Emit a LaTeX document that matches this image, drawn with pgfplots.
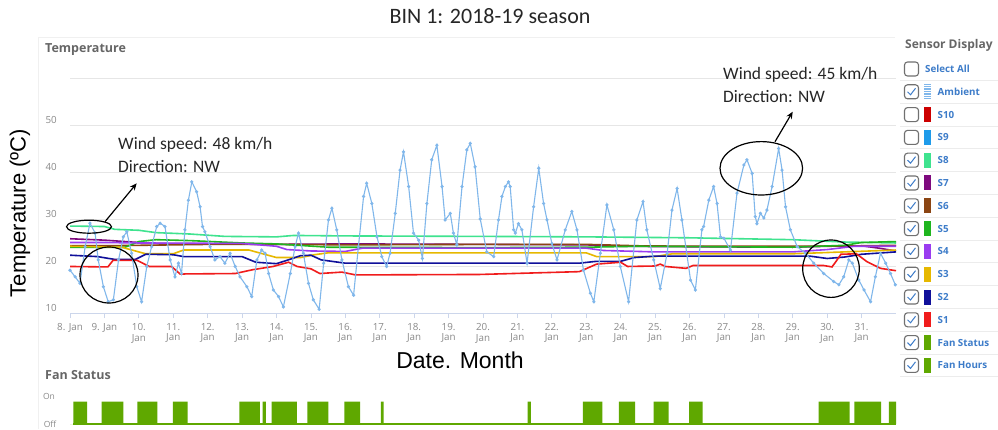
\documentclass[border=0pt]{standalone}
\usepackage{pgfplots}
\pgfplotsset{compat=1.18}
\usepackage{fontspec}
\setmainfont{Open Sans}
\newfontfamily\calfont{Carlito}
\newfontfamily\arfont{Liberation Sans}
\usetikzlibrary{arrows.meta}
\definecolor{amb}{HTML}{80B7EB}
\definecolor{s8}{HTML}{3FE38F}
\definecolor{s7}{HTML}{7E0A7E}
\definecolor{s6}{HTML}{8B4513}
\definecolor{s5}{HTML}{1FB51F}
\definecolor{s4}{HTML}{9A3CF0}
\definecolor{s3}{HTML}{E6B800}
\definecolor{s2}{HTML}{10109A}
\definecolor{s1}{HTML}{F01C1C}
\definecolor{s10}{HTML}{CC0000}
\definecolor{s9}{HTML}{1E9BEA}
\definecolor{fan}{HTML}{5FA800}
\definecolor{txtg}{HTML}{666666}
\definecolor{tickg}{HTML}{8A8A8A}
\definecolor{gridc}{HTML}{E6E6E6}
\definecolor{axl}{HTML}{CCD6EB}
\definecolor{legb}{HTML}{3D7CC9}
\definecolor{boxg}{HTML}{707070}

\pgfplotstableread{
d T
8.00 19.1
8.15 17.7
8.29 16.3
8.44 24.1
8.58 29.1
8.73 27.0
8.82 21.3
8.97 15.6
9.11 12.4
9.26 12.8
9.41 21.3
9.55 26.2
9.65 27.3
9.79 22.7
9.94 15.6
10.08 12.4
10.23 19.9
10.37 24.1
10.52 28.4
10.62 29.1
10.76 28.4
10.91 21.3
11.05 17.7
11.15 20.6
11.24 18.4
11.34 27.7
11.44 34.0
11.54 37.9
11.68 35.8
11.78 32.6
11.85 28.4
11.92 27.3
12.07 24.1
12.21 21.3
12.36 22.0
12.50 20.6
12.65 22.7
12.80 19.9
12.94 17.7
13.14 15.6
13.28 13.5
13.43 21.3
13.57 23.4
13.67 22.7
13.77 18.4
13.91 14.9
14.06 13.5
14.20 11.3
14.40 18.4
14.54 24.1
14.64 27.0
14.78 22.7
14.93 16.3
15.07 12.8
15.24 10.8
15.37 20.6
15.51 29.8
15.61 32.3
15.75 27.7
15.90 21.3
16.09 15.6
16.24 13.8
16.38 24.1
16.53 34.8
16.62 37.6
16.77 33.3
16.92 26.2
17.06 22.0
17.20 19.9
17.30 22.7
17.45 31.2
17.59 40.4
17.69 44.3
17.84 36.9
17.98 27.0
18.13 25.5
18.24 21.6
18.37 33.3
18.51 42.6
18.66 45.7
18.81 36.9
18.90 29.8
19.05 31.2
19.14 27.0
19.24 24.5
19.39 36.9
19.53 44.7
19.63 46.1
19.77 41.1
19.92 30.0
20.11 23.0
20.31 22.0
20.45 29.8
20.55 34.8
20.65 36.9
20.74 37.9
20.79 36.9
20.89 27.7
20.94 27.0
21.03 29.0
21.13 27.7
21.28 20.6
21.47 32.6
21.62 40.8
21.76 33.3
21.86 29.8
22.00 24.8
22.15 21.3
22.39 27.7
22.58 31.6
22.73 27.7
22.92 19.1
23.12 14.2
23.22 12.4
23.41 22.7
23.60 33.0
23.80 27.7
23.99 19.9
24.23 12.4
24.47 29.8
24.65 33.7
24.76 27.7
24.96 21.3
25.15 15.2
25.35 22.7
25.49 31.9
25.64 36.5
25.78 29.8
26.03 17.0
26.17 14.9
26.36 27.7
26.41 28.4
26.56 34.0
26.70 36.9
26.80 33.3
26.90 26.2
27.00 25.9
27.19 23.4
27.38 35.5
27.58 41.5
27.67 42.6
27.82 39.7
27.91 30.5
27.96 29.0
28.06 31.2
28.16 30.2
28.25 31.9
28.40 36.9
28.59 45.0
28.69 40.4
28.79 32.6
28.93 27.7
29.13 24.1
29.37 22.7
29.61 20.6
29.90 18.4
30.19 16.7
30.34 16.0
30.48 17.7
30.63 21.3
30.73 20.6
30.92 17.0
31.07 14.9
31.26 12.4
31.40 17.7
31.55 22.7
31.70 20.6
31.84 18.4
31.98 16.0
}\ambient

\begin{document}
\begin{tikzpicture}[x=1pt,y=1pt]
\useasboundingbox (0,0) rectangle (998,429);
\fill[white] (0,0) rectangle (998,429);
% faint chart container border
\draw[gray!12, line width=0.8pt] (38,0) -- (38,392) -- (895,392);

% title and headings
\node[font=\calfont\fontsize{22}{26}\selectfont, text=black!85] at (490,413) {BIN 1: 2018-19 season};
\node[anchor=west, inner sep=0pt, font=\bfseries\fontsize{12.5}{15}\selectfont, text=txtg] at (45,379) {Temperature};
\node[anchor=west, inner sep=0pt, font=\bfseries\fontsize{12.5}{15}\selectfont, text=txtg] at (45,54) {Fan Status};
\node[rotate=90, font=\arfont\fontsize{22}{26}\selectfont] at (20,216) {Temperature (ºC)};
\node[font=\arfont\fontsize{23}{27}\selectfont] at (460,69) {Date. Month};
\node[font=\fontsize{8.5}{10}\selectfont, text=tickg] at (49,33) {On};
\node[font=\fontsize{8.5}{10}\selectfont, text=tickg] at (50,5) {Off};

\begin{axis}[
  at={(70pt,116pt)}, anchor=south west,
  scale only axis, width=826pt, height=235pt,
  xmin=8, xmax=32, ymin=10, ymax=60,
  enlargelimits=false,
  axis x line*=bottom, axis y line*=left,
  x axis line style={draw=axl, line width=0.8pt, -},
  y axis line style={draw=none},
  ymajorgrids, grid style={gridc, line width=0.8pt},
  xtick={8,...,31},
  xticklabels={8. Jan,9. Jan,{10.\\Jan},{11.\\Jan},{12.\\Jan},{13.\\Jan},{14.\\Jan},{15.\\Jan},{16.\\Jan},{17.\\Jan},{18.\\Jan},{19.\\Jan},{20.\\Jan},{21.\\Jan},{22.\\Jan},{23.\\Jan},{24.\\Jan},{25.\\Jan},{26.\\Jan},{27.\\Jan},{28.\\Jan},{29.\\Jan},{30.\\Jan},{31.\\Jan}},
  ytick={10,20,30,40,50,60},
  yticklabels={10,20,30,40,50,},
  tick align=outside, major tick length=5pt,
  xtick style={draw=axl, line width=0.8pt},
  ytick style={draw=none},
  /pgf/number format/assume math mode=true,
  xticklabel style={font=\fontsize{9.8}{10.7}\selectfont, text=tickg, align=center, anchor=north, inner sep=0pt, yshift=-5pt},
  yticklabel style={font=\fontsize{9.8}{11}\selectfont, text=tickg, anchor=east, inner sep=0pt, xshift=-8pt, yshift=5pt},
]
\addplot[s8, line width=1.6pt] coordinates {(8,28.5)(9,28.4)(9.3,27.8)(10,27.6)(10.5,27.1)(11.5,26.8)(12.5,26.3)(14,26.2)(14.5,26.5)(16,26.4)(20,26.3)(23,26.2)(26,26.0)(29,25.6)(30.5,25.1)(32,24.9)};
\addplot[s7, line width=1.6pt] coordinates {(8,25.8)(9,25.5)(10,25.0)(10.5,24.8)(12,24.7)(14,24.6)(16,24.7)(20,24.6)(23,24.5)(24,24.2)(26,24.1)(29,24.0)(30,24.2)(31,24.3)(31.5,23.8)(32,23.2)};
\addplot[s6, line width=1.6pt] coordinates {(8,24.3)(9,24.3)(10,24.4)(12,24.6)(14,24.6)(16,24.5)(20,24.6)(23,24.6)(24.5,24.3)(26,24.2)(29,24.2)(31,24.3)(32,24.4)};
\addplot[s5, line width=1.6pt] coordinates {(8,24.0)(9.6,24.0)(10,25.2)(10.5,25.6)(11.5,25.4)(13,24.9)(14,24.7)(15.5,24.0)(20,23.9)(23,24.0)(24.5,24.2)(29,24.0)(30.5,24.4)(31,25.0)(32,25.2)};
\addplot[s4, line width=1.6pt] coordinates {(8,25.0)(9,25.0)(10,24.9)(13,24.8)(14,24.2)(14.3,23.5)(15,23.2)(16,23.1)(16.5,23.8)(20,23.8)(23,23.8)(23.5,23.3)(25,23.0)(29,23.0)(30,23.5)(30.8,24.2)(32,24.2)};
\addplot[s3, line width=1.6pt] coordinates {(8,24.2)(9.5,24.0)(9.9,23.2)(10.2,22.6)(11,22.6)(11.3,23.4)(13.2,23.4)(13.6,22.6)(14,21.8)(14.7,21.8)(15.1,22.4)(15.5,22.8)(19.9,22.8)(23,22.8)(23.3,22.0)(25,22.0)(25.5,22.6)(29,22.6)(30.5,23.0)(32,23.4)};
\addplot[s2, line width=1.6pt] coordinates {(8,22.3)(8.8,22.0)(9.3,21.4)(9.9,21.4)(10.2,22.5)(11,22.4)(11.3,22.0)(13,22.0)(13.4,20.8)(14,20.5)(14.3,21.2)(14.7,22.2)(15.0,22.3)(15.3,21.3)(16,20.6)(19.9,20.6)(22.8,20.6)(23.3,21.0)(24,21.0)(24.4,21.8)(25,22.1)(29.5,22.1)(30,21.6)(30.5,21.9)(31,22.5)(32,23.0)};
\addplot[s1, line width=1.6pt] coordinates {(8,19.9)(9.1,19.8)(9.25,21.2)(9.95,21.2)(10.3,19.9)(10.95,19.9)(11.2,18.3)(12.8,18.4)(13.3,19.2)(13.9,19.9)(14.35,20.8)(14.6,19.9)(15.0,19.4)(15.26,18.4)(15.9,18.7)(16.3,18.1)(19.9,18.2)(22.8,18.8)(23.3,20.4)(24.0,20.8)(24.2,19.9)(25.0,20.0)(25.15,20.4)(25.3,19.9)(25.9,19.5)(26.1,20.1)(29.9,20.1)(30.14,19.8)(30.25,20.9)(30.4,22.5)(30.85,22.6)(31.16,20.9)(31.55,19.5)(32,19.0)};
\addplot[amb, line width=1.1pt, mark=*, mark size=1pt, mark options={fill=amb, draw=amb}] table[x=d, y=T] {\ambient};
\end{axis}

\begin{axis}[
  at={(70pt,5pt)}, anchor=south west,
  scale only axis, width=826pt, height=22.5pt,
  xmin=8, xmax=32, ymin=0, ymax=1,
  enlargelimits=false, hide axis, clip=false,
]
\addplot[fill=fan, draw=none, const plot mark left] coordinates {(8,0)(8.10,1)(8.50,0)(8.92,1)(9.55,0)(9.96,1)(10.54,0)(10.99,1)(11.42,0)(12.92,1)(13.52,0)(13.60,1)(13.69,0)(13.86,1)(14.59,0)(14.90,1)(15.51,0)(15.97,1)(16.43,0)(17.03,1)(17.11,0)(21.30,1)(21.39,0)(22.90,1)(23.47,0)(23.95,1)(24.42,0)(24.96,1)(25.39,0)(25.99,1)(26.38,0)(29.75,1)(30.65,0)(30.79,1)(31.57,0)(31.79,1)(32,1)} \closedcycle;
\addplot[fan, line width=1.5pt] coordinates {(8.1,0)(32,0)};
\end{axis}

% annotations
\begin{scope}[line width=1.2pt, black]
\draw (89,202.3) ellipse [x radius=22.5, y radius=6.5];
\draw (109,154) ellipse [x radius=29, y radius=28];
\draw[-{Stealth[length=7pt,width=6pt]}] (105,207.3) -- (136.7,245.7);
\draw (761.3,260.7) ellipse [x radius=41.3, y radius=26.7];
\draw[-{Stealth[length=7pt,width=6pt]}] (775,287.3) -- (792.7,317.3);
\draw (831,160.3) ellipse [x radius=28.3, y radius=28.7];
\end{scope}
\node[anchor=west, inner sep=0pt, font=\calfont\fontsize{17.5}{21}\selectfont, text=black!85] at (118,284) {Wind speed: 48 km/h};
\node[anchor=west, inner sep=0pt, font=\calfont\fontsize{17.5}{21}\selectfont, text=black!85] at (118,262.3) {Direction: NW};
\node[anchor=west, inner sep=0pt, font=\calfont\fontsize{17.5}{21}\selectfont, text=black!85] at (723,354) {Wind speed: 45 km/h};
\node[anchor=west, inner sep=0pt, font=\calfont\fontsize{17.5}{21}\selectfont, text=black!85] at (723,332.3) {Direction: NW};

% sensor display panel
\node[anchor=west, inner sep=0pt, font=\bfseries\fontsize{12}{14}\selectfont, text=txtg] at (905,384) {Sensor Display};
\foreach \yy in {360,337.2,314.4,291.6,268.8,246,223.2,200.4,177.6,154.8,132,109.2,86.4,63.6}{
  \draw[gray!15, line width=0.7pt] (900,\yy-11.4) -- (998,\yy-11.4);
}
\draw[boxg, line width=1.1pt, rounded corners=3pt] (904.5,353) rectangle (918.5,367);
\node[anchor=west, inner sep=0pt, font=\bfseries\fontsize{9.8}{12}\selectfont, text=legb] at (925,360) {Select All};
\foreach \yy/\nm/\cl/\ck in {337.2/Ambient/amb/1, 314.4/S10/s10/0, 291.6/S9/s9/0, 268.8/S8/s8/1, 246/S7/s7/1, 223.2/S6/s6/1, 200.4/S5/s5/1, 177.6/S4/s4/1, 154.8/S3/s3/1, 132/S2/s2/1, 109.2/S1/s1/1, 86.4/Fan Status/fan/1, 63.6/Fan Hours/fan/1}{
  \draw[boxg, line width=1.1pt, rounded corners=3pt] (904.5,\yy-7) rectangle (918.5,\yy+7);
  \ifnum\ck=1 \draw[legb, line width=1pt] (907.5,\yy) -- (910.5,\yy-3) -- (915.5,\yy+3.5); \fi
  \fill[\cl] (924.3,\yy-7.5) rectangle (931,\yy+7.5);
  \node[anchor=west, inner sep=0pt, font=\bfseries\fontsize{9.8}{12}\selectfont, text=legb] at (937.5,\yy) {\nm};
}
\foreach \k in {-6,-3.5,-1,1.5,4,6.5}{
  \draw[white, line width=0.6pt] (924.3,337.2+\k) -- (931,337.2+\k);
}
\end{tikzpicture}
\end{document}
